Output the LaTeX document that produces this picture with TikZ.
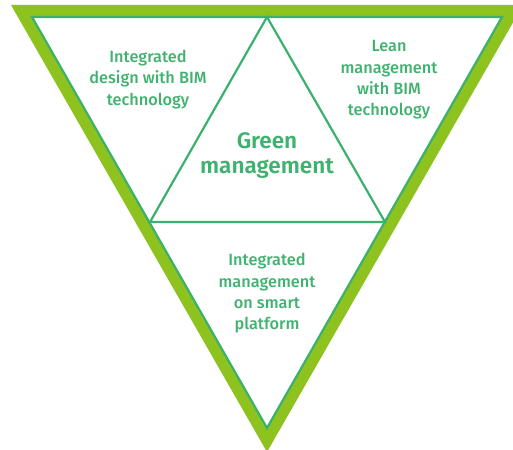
\documentclass[tikz,border=0pt]{standalone}
\usepackage{fontspec}
\setmainfont{Fira Sans}[UprightFont=* Medium, BoldFont=* SemiBold]
\definecolor{lime}{RGB}{141,194,31}
\definecolor{teal}{RGB}{58,178,110}
\definecolor{txt}{RGB}{64,178,112}
\begin{document}
\begin{tikzpicture}[x=1pt,y=-1pt,
  lbl/.style={text=txt,align=center,font=\fontsize{16.3}{21.3}\selectfont},
  big/.style={text=txt,align=center,font=\fontsize{22.5}{25}\selectfont\bfseries},
  edge/.style={draw=teal,line width=2.2pt,line join=miter}]
\useasboundingbox (0,0) rectangle (513,449);
\clip (0,0) rectangle (513,449);
\fill[lime] (11,5) -- (523,5) -- (267,452) -- cycle;
\draw[edge,fill=white] (32,17) -- (502,17) -- (267,428) -- cycle;
\draw[edge] (267,17) -- (150,222) -- (385,222) -- cycle;
\node[big] (g) at (267,156) {Green\\management};
\node[lbl] (a) at (148,79.5) {Integrated\\design with BIM\\technology};
\node[lbl] (b) at (389,80) {Lean\\management\\with BIM\\technology};
\node[lbl] (c) at (267,293.5) {Integrated\\management\\on smart\\platform};
\end{tikzpicture}
\end{document}
